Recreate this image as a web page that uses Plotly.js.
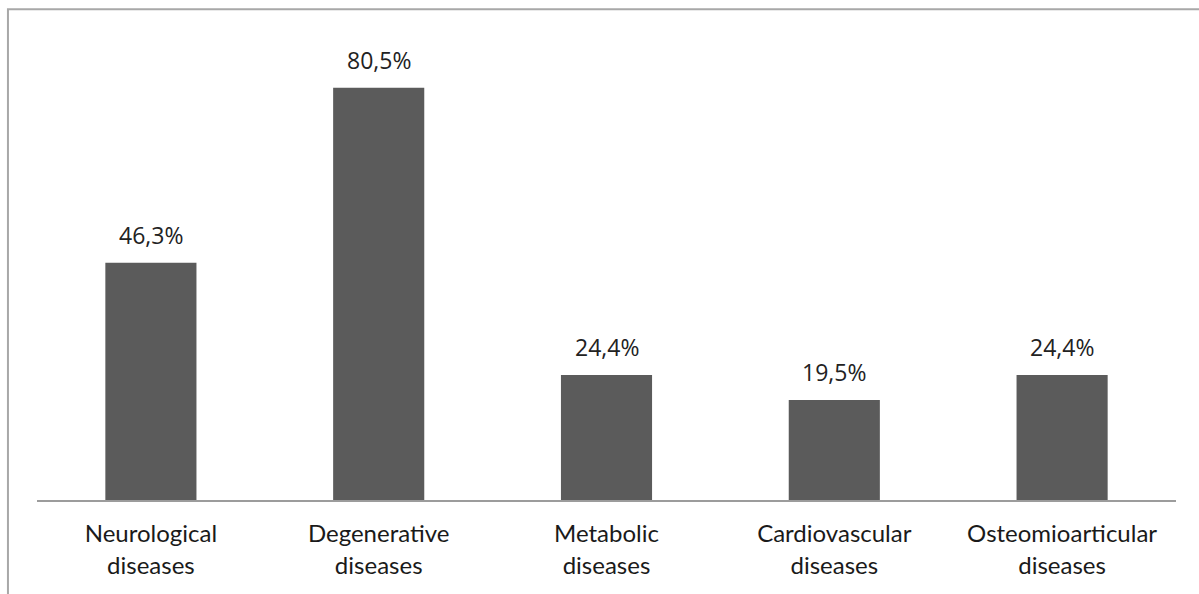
<!DOCTYPE html>
<html>
<head>
<meta charset="utf-8">
<script src="https://cdn.plot.ly/plotly-3.0.1.min.js"></script>
<style>html,body{margin:0;padding:0;background:#fff;}#chart{width:1199px;height:594px;}</style>
</head>
<body>
<div id="chart"></div>
<script>
var categories = ["Neurological diseases", "Degenerative diseases", "Metabolic diseases", "Cardiovascular diseases", "Osteomioarticular diseases"];
var tickLabels = ["Neurological<br>diseases", "Degenerative<br>diseases", "Metabolic<br>diseases", "Cardiovascular<br>diseases", "Osteomioarticular<br>diseases"];
var values = [46.3, 80.5, 24.4, 19.5, 24.4];
var valueLabels = ["46,3%", "80,5%", "24,4%", "19,5%", "24,4%"];

var trace = {
  type: "bar",
  x: categories,
  y: values,
  marker: {color: "#5b5b5b"},
  hoverinfo: "none"
};

var annotations = categories.map(function(c, i) {
  return {
    x: c, y: values[i], xref: "x", yref: "y",
    text: valueLabels[i], showarrow: false,
    yanchor: "bottom", yshift: 10,
    font: {family: "Open Sans", size: 23, color: "#222222"}
  };
});

var layout = {
  width: 1199, height: 594,
  margin: {l: 37, r: 23, t: 39, b: 93.5, pad: 0},
  paper_bgcolor: "#ffffff", plot_bgcolor: "#ffffff",
  showlegend: false,
  bargap: 0.6,
  xaxis: {
    tickvals: categories, ticktext: tickLabels,
    showline: true, linecolor: "#9c9c9c", linewidth: 1.5,
    ticks: "", showgrid: false, zeroline: false,
    tickfont: {family: "Lato", size: 24, color: "#1a1a1a"},
    ticklabelstandoff: 12
  },
  yaxis: {
    range: [0, 90], visible: false, showgrid: false, zeroline: false, fixedrange: true
  },
  annotations: annotations,
  shapes: [{
    type: "rect", xref: "paper", yref: "paper",
    x0: -0.0255, x1: 1.2, y0: -0.5, y1: 1.0645,
    line: {color: "#a8a8a8", width: 2}, fillcolor: "rgba(0,0,0,0)", layer: "below"
  }]
};

Plotly.newPlot("chart", [trace], layout, {staticPlot: true, displayModeBar: false});
</script>
</body>
</html>
